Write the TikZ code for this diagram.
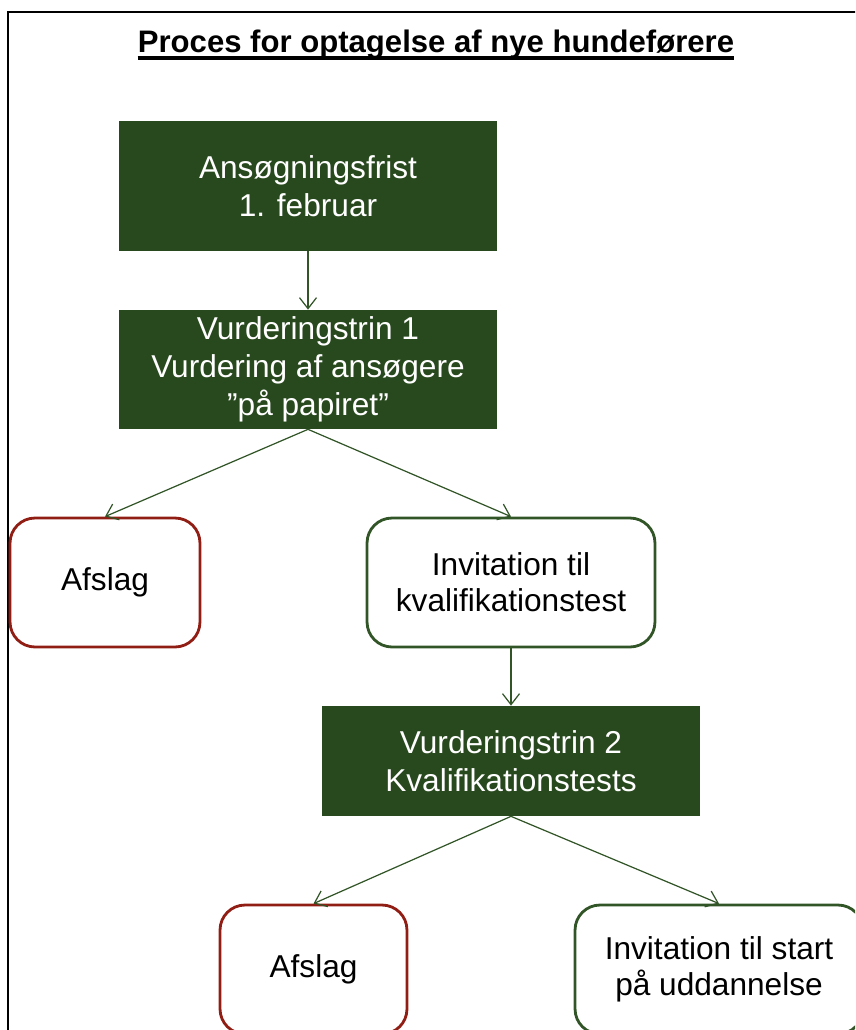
\documentclass[tikz,border=0pt]{standalone}
\usepackage{fontspec}
\setmainfont{Liberation Sans}
\usetikzlibrary{arrows.meta,positioning}
\definecolor{stepgreen}{RGB}{40,73,30}
\definecolor{linegreen}{RGB}{50,85,40}
\definecolor{rejectred}{RGB}{145,30,20}

\begin{document}
\begin{tikzpicture}[x=0.02cm, y=-0.02cm,
    stepbox/.style={fill=stepgreen, text=white, minimum width=7.56cm, align=center,
        inner sep=0pt, font=\fontsize{18}{21.5}\selectfont},
    roundbox/.style={draw, line width=1.6pt, rounded corners=0.5cm, fill=white, align=center,
        minimum height=2.58cm, inner sep=0pt, font=\fontsize{18}{20.3}\selectfont},
    arr/.style={draw=linegreen, line width=0.7pt, -{Straight Barb[length=2.2mm,width=3.4mm]}}]
    % Page frame
    \clip (0,0) rectangle (855,1030);
    \draw[line width=0.9pt] (8,1040) -- (8,12) -- (870,12);

    % Title
    \node[inner sep=0pt, anchor=base, font=\bfseries\fontsize{17.7}{21}\selectfont] (title) at (436,53)
        {Proces for optagelse af nye hundeførere};
    \draw[line width=2pt] ([yshift=-2.8pt]title.base west) -- ([yshift=-2.8pt]title.base east);

    % Steps
    \node[stepbox, minimum height=2.6cm] (frist) at (308,186) {Ansøgningsfrist\\1. februar};
    \node[stepbox, minimum height=2.38cm] (trin1) at (308,369.5)
        {Vurderingstrin 1\\Vurdering af ansøgere\\”på papiret”};
    \node[roundbox, draw=rejectred, minimum width=3.8cm] (afslag1) at (105,582.5) {Afslag};
    \node[roundbox, draw=linegreen, minimum width=5.76cm] (invkval) at (511,582.5)
        {Invitation til\\kvalifikationstest};
    \node[stepbox, minimum height=2.2cm] (trin2) at (511,761) {Vurderingstrin 2\\Kvalifikationstests};
    \node[roundbox, draw=rejectred, minimum width=3.74cm] (afslag2) at (313.5,969.5) {Afslag};
    \node[roundbox, draw=linegreen, minimum width=5.76cm] (invstart) at (719,969.5)
        {Invitation til start\\på uddannelse};

    % Arrows
    \draw[arr] (frist) -- (trin1);
    \draw[arr] (trin1.south) -- (afslag1.north);
    \draw[arr] (trin1.south) -- (invkval.north);
    \draw[arr] (invkval) -- (trin2);
    \draw[arr] (trin2.south) -- (afslag2.north);
    \draw[arr] (trin2.south) -- (invstart.north);
\end{tikzpicture}
\end{document}
